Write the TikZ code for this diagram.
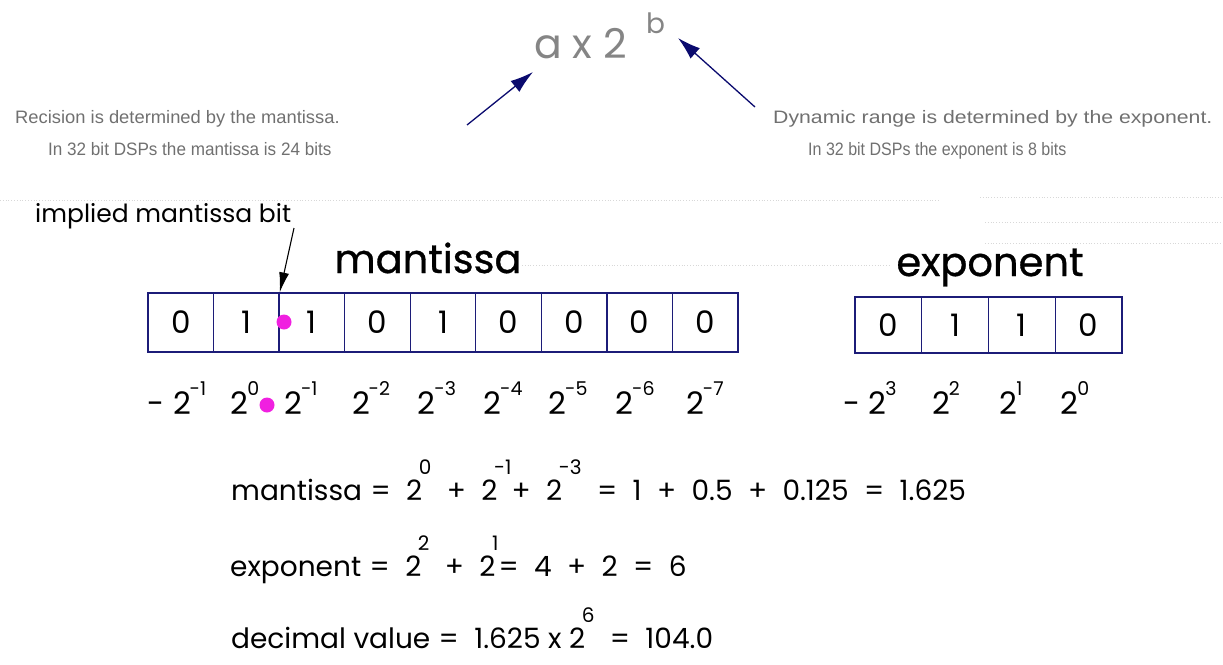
\documentclass[tikz,border=0pt]{standalone}
\usepackage{fontspec}
\setmainfont{Poppins}
\newfontfamily\notefont{Liberation Sans}
\newfontfamily\titlefont[FakeBold=0.8]{Poppins}
\usetikzlibrary{arrows.meta}
\definecolor{navy}{HTML}{1C1C78}
\definecolor{arrowblue}{HTML}{0A0A6E}
\definecolor{mag}{HTML}{F020E0}
\definecolor{graytxt}{HTML}{858585}
\definecolor{notegray}{HTML}{707070}
\definecolor{faint}{HTML}{D8D8D8}
% weight label: base with a small raised exponent
\newcommand\wt[2]{2\hspace{-0.04em}\raisebox{0.6em}{\fontsize{19}{19}\selectfont #2}}
% equation exponent: set high above the base
\newcommand\hx[1]{\hspace{-0.12em}\raisebox{0.92em}{\fontsize{20}{20}\selectfont #1}}
\newcommand\g{\hspace{0.55em}}
\newcommand\gw{\hspace{0.3em}}
\begin{document}
\begin{tikzpicture}[x=1pt,y=-1pt,
  cell/.style={draw=navy,line width=1.3pt,inner sep=0pt,minimum width=65.56pt,minimum height=59pt,font=\fontsize{31}{31}\selectfont},
  ecell/.style={draw=navy,line width=1.3pt,inner sep=0pt,minimum width=66.75pt,minimum height=56pt,font=\fontsize{31}{31}\selectfont},
  weight/.style={inner sep=0pt,anchor=base,font=\fontsize{31}{31}\selectfont},
  note/.style={inner sep=0pt,anchor=base west,text=notegray,font=\notefont\fontsize{18}{18}\selectfont},
  eqn/.style={inner sep=0pt,anchor=base west,font=\fontsize{28}{28}\selectfont},
  title/.style={inner sep=0pt,anchor=base,font=\titlefont\fontsize{40}{40}\selectfont},
  bluearrow/.style={draw=arrowblue,line width=1.3pt,-{Latex[length=23pt,width=14pt]}},
  blackarrow/.style={draw=black,line width=1.1pt,-{Latex[length=20pt,width=10pt]}},
  magdot/.style={circle,fill=mag,inner sep=0pt,minimum size=15pt},
  faintline/.style={draw=faint,line width=0.8pt,dotted}]
\useasboundingbox (0,0) rectangle (1223,664);
% faint grid remnants
\draw[faintline] (0,200) -- (940,200);
\draw[faintline] (522,265) -- (890,265);
\draw[faintline] (980,197) -- (1223,197);
\draw[faintline] (985,222) -- (1223,222);
\draw[faintline] (985,243) -- (1223,243);
% top formula
\node[inner sep=0pt,anchor=base west,text=graytxt,font=\fontsize{41}{41}\selectfont] (formula) at (534,58) {a x 2};
\node[inner sep=0pt,anchor=base west,text=graytxt,font=\fontsize{28}{28}\selectfont] (fexp) at (646,33) {b};
% notes
\node[note] (p1) at (15,123) {\scalebox{1.02}[1]{Recision is determined by the mantissa.}};
\node[note] (p2) at (48,155) {\scalebox{0.95}[1]{In 32 bit DSPs the mantissa is 24 bits}};
\node[note] (d1) at (773,123) {\scalebox{1.18}[1]{Dynamic range is determined by the exponent.}};
\node[note] (d2) at (808,155) {\scalebox{0.89}[1]{In 32 bit DSPs the exponent is 8 bits}};
\coordinate (la) at (467,125);
\coordinate (lb) at (533,72);
\coordinate (ra) at (755,107);
\coordinate (rb) at (678,38);
\draw[bluearrow] (la) -- (lb);
\draw[bluearrow] (ra) -- (rb);
% titles
\node[inner sep=0pt,anchor=base west,font=\fontsize{25}{25}\selectfont] (implied) at (35,222) {implied mantissa bit};
\node[title] (mtitle) at (428,273) {mantissa};
\node[title] (etitle) at (990,276) {exponent};
% mantissa cells
\foreach \i/\d in {0/0,1/1,2/1,3/0,4/1,5/0,6/0,7/0,8/0}{
  \node[cell] (m\i) at ({148+65.56*\i+32.78},322.5) {\d};
}
% exponent cells
\foreach \i/\d in {0/0,1/1,2/1,3/0}{
  \node[ecell] (e\i) at ({855+66.75*\i+33.375},325) {\d};
}
\node[magdot] (dot1) at (284,322) {};
\coordinate (ia) at (294,228);
\draw[blackarrow] (ia) -- (m1.north east);
% mantissa weights
\node[weight] (w0) at (177,414) {- \wt{2}{-1}};
\node[weight] (w1) at (245,414) {\wt{2}{0}};
\node[magdot] (dot2) at (267,405) {};
\node[weight] (w2) at (301,414) {\wt{2}{-1}};
\node[weight] (w3) at (371,414) {\wt{2}{-2}};
\node[weight] (w4) at (437,414) {\wt{2}{-3}};
\node[weight] (w5) at (503,414) {\wt{2}{-4}};
\node[weight] (w6) at (568,414) {\wt{2}{-5}};
\node[weight] (w7) at (635,414) {\wt{2}{-6}};
\node[weight] (w8) at (705,414) {\wt{2}{-7}};
% exponent weights
\node[weight] (x0) at (870,414) {- \wt{2}{3}};
\node[weight] (x1) at (946,414) {\wt{2}{2}};
\node[weight] (x2) at (1011,414) {\wt{2}{1}};
\node[weight] (x3) at (1075,414) {\wt{2}{0}};
% equations
\node[eqn] (eq1) at (231,500) {mantissa\gw=\g2\hx{0}\g+\g2\hx{-1}+\g2\hx{-3}\g=\g1\g+\g0.5\g+\g0.125\g=\g1.625};
\node[eqn] (eq2) at (230,576) {exponent\gw=\g2\hx{2}\g+\g2\hx{1}=\g4\g+\g2\g=\g6};
\node[eqn] (eq3) at (231,648) {decimal value\gw=\g1.625 x 2\hx{6}\g=\g104.0};
\end{tikzpicture}
\end{document}
